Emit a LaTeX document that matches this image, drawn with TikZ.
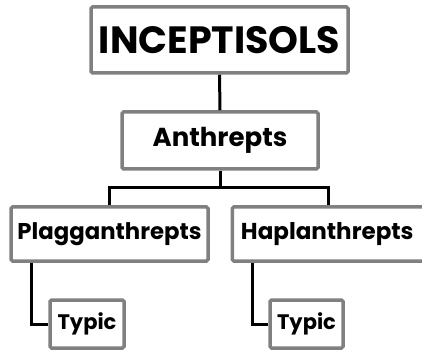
\documentclass[tikz,border=0pt]{standalone}
\usepackage{fontspec}
\setmainfont{Poppins}
\usepackage{tikz}
\usetikzlibrary{positioning}
\definecolor{boxgray}{RGB}{128,128,128}

\begin{document}
\begin{tikzpicture}[
    x=1pt, y=-1pt,
    soilbox/.style={draw=boxgray, line width=3.5pt, fill=white,
                    rounded corners=1.5pt, inner sep=0pt, align=center,
                    font=\bfseries},
    link/.style={line width=3pt, black},
]
\useasboundingbox (0,0) rectangle (422,352);

% --- order ---
\node[soilbox, minimum width=257pt, minimum height=66pt,
      font=\fontsize{38}{40}\selectfont\bfseries] (order) at (219.5,40) {INCEPTISOLS};

% --- suborder ---
\node[soilbox, minimum width=196pt, minimum height=57pt,
      font=\fontsize{26}{30}\selectfont\bfseries] (subord) at (220,140.5) {Anthrepts};

% --- great groups ---
\node[soilbox, minimum width=197pt, minimum height=54pt,
      font=\fontsize{22.8}{26}\selectfont\bfseries] (plagg) at (109.5,234) {Plagganthrepts};
\node[soilbox, minimum width=230pt, minimum height=54pt, anchor=west,
      font=\fontsize{23}{26}\selectfont\bfseries] (haplan) at (230.5,234)
      {Haplanthrepts\hspace*{40pt}};
\coordinate (haptop) at ([xshift=98pt]haplan.north west);

% --- subgroups ---
\node[soilbox, minimum width=74pt, minimum height=48pt,
      font=\fontsize{21}{24}\selectfont\bfseries] (typplagg) at (87,324) {Typic};
\node[soilbox, minimum width=73pt, minimum height=48pt,
      font=\fontsize{21}{24}\selectfont\bfseries] (typhaplan) at (306.5,324) {Typic};

% --- connectors ---
\coordinate (fork) at (220,188);
\draw[link] (order.south) -- (subord.north);
\draw[link] (subord.south) -- (fork);
\draw[link] (plagg.north) |- (fork) -| (haptop);
\draw[link] ([xshift=22pt]plagg.south west) |- (typplagg.west);
\draw[link] ([xshift=22pt]haplan.south west) |- (typhaplan.west);
\end{tikzpicture}
\end{document}
